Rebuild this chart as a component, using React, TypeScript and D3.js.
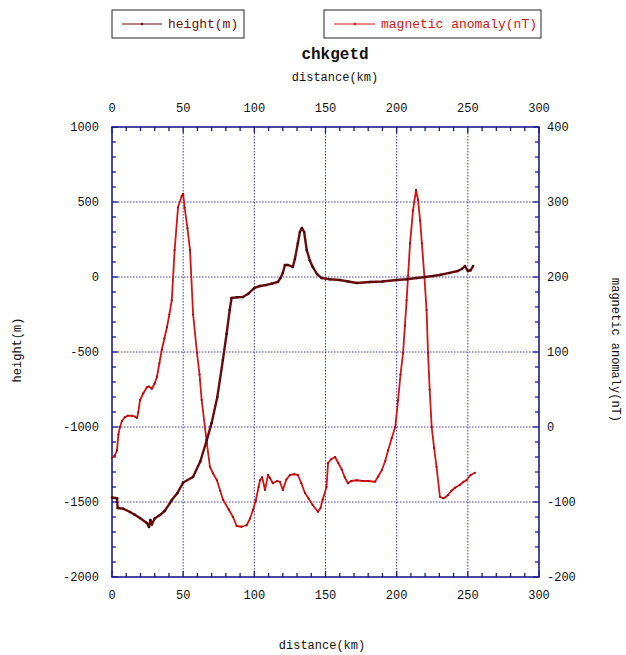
import React from "react";
import * as d3 from "d3";

// distance (km) / height (m)
const heightDist = [0, 3.5, 4, 8, 12.6, 16, 19.6, 24.5, 26, 27, 28, 30, 33.7, 37, 40.7, 42, 46, 50, 56.9, 62, 66.6, 70, 74, 77.9, 80.5, 82.7, 84, 88, 92, 96, 100, 104, 108.6, 112, 116.6, 118.5, 120, 121.5, 123.6, 127, 128.5, 130.6, 132, 133.4, 135, 136.8, 139, 141, 144, 147.3, 153, 160, 166, 172, 181, 190, 200, 207, 214, 220, 225.6, 231, 237, 243, 246, 248, 250, 252, 253.7];
const heightVals = [-1470, -1475, -1540, -1545, -1567, -1585, -1607, -1640, -1667, -1620, -1650, -1610, -1587, -1560, -1507, -1487, -1440, -1370, -1333, -1230, -1087, -973, -800, -553, -380, -220, -140, -135, -133, -110, -73, -60, -53, -45, -33, -5, 27, 80, 80, 67, 120, 227, 300, 327, 300, 180, 110, 67, 20, -7, -15, -20, -30, -40, -33, -30, -20, -15, -7, 0, 7, 15, 27, 40, 55, 73, 40, 45, 73];

// distance (km) / magnetic anomaly (nT)
const magDist = [0, 2, 3.5, 4.5, 5.6, 7, 9, 11, 14, 16, 17.6, 18.5, 19.7, 22, 24.5, 26, 28, 30, 31.6, 33.3, 35, 36.8, 38.6, 40.3, 42, 44, 46.4, 49, 50, 51, 53, 54.8, 57, 59.7, 61.5, 63, 66.6, 68.8, 71, 73.7, 76, 78, 82, 85, 87.6, 91, 94.6, 97, 99, 101, 103, 104, 105.5, 107.5, 109.6, 111, 113, 116, 118, 120, 122.5, 125, 128, 130.6, 133, 135.6, 138, 141, 144.7, 146.5, 148, 150.7, 151.8, 154, 156.7, 159, 161.5, 163.5, 165.8, 168, 172, 176, 180, 184.8, 187, 189.7, 192, 194, 196.5, 199, 201, 202.7, 204.5, 205.8, 207, 209.4, 211.5, 213.6, 215, 216.5, 217.7, 219.5, 221, 222, 223.2, 224.6, 226.3, 228, 230.4, 232.6, 234, 236, 238.5, 241, 244.5, 247, 249, 252, 255];
const magVals = [-41, -38, -31, -10, 0, 8, 13, 15, 15, 14, 12, 20, 36, 45, 53, 54, 51, 58, 67, 85, 103, 118, 133, 150, 169, 236, 293, 308, 311, 293, 265, 236, 150, 99, 70, 36, -21, -53, -62, -71, -85, -97, -110, -120, -132, -133, -131, -122, -111, -98, -80, -71, -67, -84, -64, -68, -75, -72, -73, -84, -70, -64, -63, -64, -75, -88, -95, -104, -113, -108, -97, -80, -48, -43, -40, -48, -57, -67, -75, -72, -71, -72, -72, -73, -66, -57, -45, -31, -15, 0, 36, 70, 99, 135, 169, 245, 289, 316, 303, 275, 245, 200, 156, 99, 50, 0, -28, -53, -93, -95, -94, -91, -85, -81, -77, -73, -71, -64, -61];

const xTicks = [0, 50, 100, 150, 200, 250, 300];
const leftTicks = [1000, 500, 0, -500, -1000, -1500, -2000];
const rightTicks = [400, 300, 200, 100, 0, -100, -200];

const W = 626;
const H = 655;
const L = 112, R = 539, T = 127, B = 577;
const axisColor = "#1c1c8e";
const gridColor = "#3a3ab0";
const heightColor = "#6a0c0c";
const magColor = "#d41414";
const font = "'Liberation Mono', 'DejaVu Sans Mono', monospace";

export default function App() {
  const x = d3.scaleLinear().domain([0, 300]).range([L, R]);
  const yL = d3.scaleLinear().domain([-2000, 1000]).range([B, T]);
  const yR = d3.scaleLinear().domain([-200, 400]).range([B, T]);

  const hPts: [number, number][] = heightDist.map((d, i) => [x(d), yL(heightVals[i])]);
  const mPts: [number, number][] = magDist.map((d, i) => [x(d), yR(magVals[i])]);
  const line = d3.line();

  const xMinor = d3.range(0, 301, 10);
  const lMinor = d3.range(-2000, 1001, 100);
  const rMinor = d3.range(-200, 401, 20);

  return (
    <svg width={W} height={H} style={{ position: "absolute", left: 0, top: 0, background: "#fff" }} fontFamily={font}>
      {/* legends */}
      <rect x={112} y={10} width={132} height={28} fill="none" stroke="#222" strokeWidth={1} />
      <line x1={122} x2={162} y1={24} y2={24} stroke={heightColor} strokeWidth={1.2} />
      <circle cx={142} cy={24} r={1.3} fill={heightColor} />
      <text x={168} y={28} fontSize={13} fill={heightColor}>height(m)</text>
      <rect x={324} y={10} width={217} height={28} fill="none" stroke="#222" strokeWidth={1} />
      <line x1={334} x2={375} y1={24} y2={24} stroke={magColor} strokeWidth={1.2} />
      <circle cx={355} cy={24} r={1.3} fill={magColor} />
      <text x={381} y={28} fontSize={13} fill={magColor}>magnetic anomaly(nT)</text>

      {/* title */}
      <text x={335} y={59} fontSize={16} fontWeight="bold" textAnchor="middle" fill="#111">chkgetd</text>
      <text x={335} y={81} fontSize={12} textAnchor="middle" fill="#111">distance(km)</text>

      {/* grid */}
      {xTicks.slice(1, -1).map((t) => (
        <line key={"gx" + t} x1={x(t)} x2={x(t)} y1={T} y2={B} stroke={gridColor} strokeWidth={1} strokeDasharray="1.5,1.5" />
      ))}
      {leftTicks.slice(1, -1).map((t) => (
        <line key={"gy" + t} x1={L} x2={R} y1={yL(t)} y2={yL(t)} stroke={gridColor} strokeWidth={1} strokeDasharray="1.5,1.5" />
      ))}

      {/* ticks */}
      {xMinor.map((t) => (
        <g key={"tx" + t}>
          <line x1={x(t)} x2={x(t)} y1={B} y2={B - (t % 50 === 0 ? 6 : 4)} stroke={axisColor} strokeWidth={1.3} />
          <line x1={x(t)} x2={x(t)} y1={T} y2={T + (t % 50 === 0 ? 6 : 4)} stroke={axisColor} strokeWidth={1.3} />
        </g>
      ))}
      {lMinor.map((t) => (
        <line key={"tl" + t} x1={L} x2={L + (t % 500 === 0 ? 6 : 4)} y1={yL(t)} y2={yL(t)} stroke={axisColor} strokeWidth={1.3} />
      ))}
      {rMinor.map((t) => (
        <line key={"tr" + t} x1={R} x2={R - (t % 100 === 0 ? 6 : 4)} y1={yR(t)} y2={yR(t)} stroke={axisColor} strokeWidth={1.3} />
      ))}
      <rect x={L} y={T} width={R - L} height={B - T} fill="none" stroke={axisColor} strokeWidth={1.6} />

      {/* tick labels */}
      {xTicks.map((t) => (
        <g key={"lx" + t} fontSize={12} fill="#111" textAnchor="middle">
          <text x={x(t)} y={112}>{t}</text>
          <text x={x(t)} y={599}>{t}</text>
        </g>
      ))}
      {leftTicks.map((t) => (
        <text key={"ll" + t} x={99} y={yL(t) + 4} fontSize={12} textAnchor="end" fill="#111">{t}</text>
      ))}
      {rightTicks.map((t) => (
        <text key={"lr" + t} x={547} y={yR(t) + 4} fontSize={12} fill="#111">{t}</text>
      ))}

      {/* axis titles */}
      <text x={322} y={649} fontSize={12} textAnchor="middle" fill="#111">distance(km)</text>
      <text transform="translate(21,350) rotate(-90)" fontSize={12} textAnchor="middle" fill="#111">height(m)</text>
      <text transform="translate(612,350) rotate(90)" fontSize={12} textAnchor="middle" fill="#111">magnetic anomaly(nT)</text>

      {/* series */}
      <path d={line(mPts) ?? ""} fill="none" stroke={magColor} strokeWidth={1.8} strokeLinejoin="round" />
      {mPts.map((p, i) => (
        <circle key={"mp" + i} cx={p[0]} cy={p[1]} r={1.1} fill="#a00808" />
      ))}
      <path d={line(hPts) ?? ""} fill="none" stroke={heightColor} strokeWidth={2.4} strokeLinejoin="round" />
      {hPts.map((p, i) => (
        <circle key={"hp" + i} cx={p[0]} cy={p[1]} r={1.3} fill="#4a0606" />
      ))}
    </svg>
  );
}
